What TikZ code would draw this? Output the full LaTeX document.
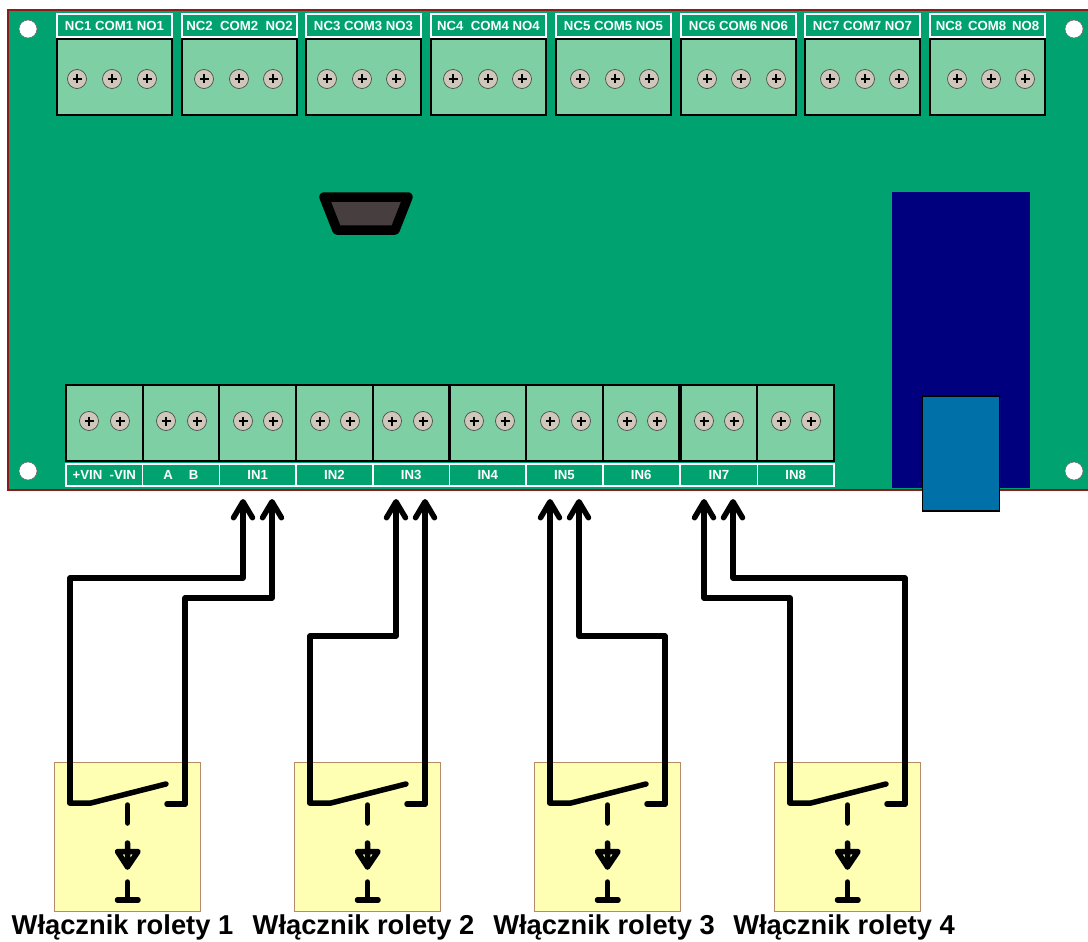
\documentclass[tikz,border=0pt]{standalone}
\usepackage{fontspec}
\setmainfont{Liberation Sans}
\usetikzlibrary{arrows.meta}
\definecolor{boardgreen}{HTML}{00A36F}
\definecolor{boardred}{HTML}{8E1B1B}
\definecolor{blockgreen}{HTML}{7FCFA5}
\definecolor{screwgrey}{HTML}{CFC8BA}
\definecolor{switchyellow}{HTML}{FFFFB4}
\definecolor{switchedge}{HTML}{B58A68}
\definecolor{portgrey}{HTML}{463E3F}
\definecolor{modulenavy}{HTML}{00007F}
\definecolor{moduleblue}{HTML}{0070A8}
\tikzset{
	block/.style={draw=black, line width=2.2pt, fill=blockgreen, inner sep=0pt, minimum height=76pt},
	toplabel/.style={draw=white, line width=1.5pt, fill=boardgreen, text=white, inner sep=0pt, minimum width=115pt, minimum height=23pt, font=\fontsize{13.2}{15}\bfseries},
	botlabel/.style={toplabel, minimum width=76.7pt, minimum height=22pt},
	screw/.style={circle, draw=black!70, line width=0.7pt, fill=screwgrey, inner sep=0pt, minimum size=19pt,
		path picture={\draw[black, line width=1.9pt] (path picture bounding box.center) +(-4.5,0) -- +(4.5,0) +(0,-4.5) -- +(0,4.5);}},
	hole/.style={circle, draw=black!60, line width=0.5pt, fill=white, inner sep=0pt, minimum size=18pt},
	wire/.style={-{Straight Barb[round, length=16pt, width=19pt]}, line width=5.5pt, line join=round, line cap=round},
	sym/.style={line width=5.5pt, line join=round, line cap=round},
	switchbox/.style={draw=switchedge, line width=0.8pt, fill=switchyellow, inner sep=0pt, minimum width=146pt, minimum height=149pt},
	caption/.style={inner sep=0pt, font=\fontsize{27.3}{30}\bfseries}
}
\begin{document}
\begin{tikzpicture}[x=1pt, y=-1pt]
	\useasboundingbox (0,0) rectangle (1088,942);

	% Board
	\node[draw=boardred, line width=1.7pt, fill=boardgreen, inner sep=0pt, minimum width=1092pt, minimum height=480pt] (board) at (554,250) {};
	\node[hole] (hole1) at (28,29) {};
	\node[hole] (hole2) at (1074,29) {};
	\node[hole] (hole3) at (28,471) {};
	\node[hole] (hole4) at (1074,471) {};

	% Port
	\draw[black, line width=9.5pt, line join=round, fill=portgrey] (324,197) -- (408,197) -- (395,230) -- (337,230) -- cycle;

	% Radio module
	\node[fill=modulenavy, inner sep=0pt, minimum width=138pt, minimum height=296pt] (module) at (961,340) {};
	\node[draw=black, line width=1.7pt, fill=moduleblue, inner sep=0pt, minimum width=77pt, minimum height=115pt] (plug) at (961,453.5) {};

	% Relay outputs
	\node[toplabel] (lab1) at (114.5,25.5) {NC1 COM1 NO1};
	\node[block, minimum width=115pt] (top1) at (114.5,77) {};
	\node[screw] (s1a) at (77,79) {}; \node[screw] (s1b) at (112,79) {}; \node[screw] (s1c) at (147,79) {};

	\node[toplabel] (lab2) at (239.5,25.5) {NC2\ \ COM2\ \ NO2};
	\node[block, minimum width=115pt] (top2) at (239.5,77) {};
	\node[screw] (s2a) at (204,79) {}; \node[screw] (s2b) at (239,79) {}; \node[screw] (s2c) at (273,79) {};

	\node[toplabel] (lab3) at (363.5,25.5) {NC3 COM3 NO3};
	\node[block, minimum width=115pt] (top3) at (363.5,77) {};
	\node[screw] (s3a) at (327,79) {}; \node[screw] (s3b) at (362,79) {}; \node[screw] (s3c) at (396,79) {};

	\node[toplabel] (lab4) at (488.5,25.5) {NC4\ \ COM4 NO4};
	\node[block, minimum width=115pt] (top4) at (488.5,77) {};
	\node[screw] (s4a) at (453,79) {}; \node[screw] (s4b) at (488,79) {}; \node[screw] (s4c) at (522,79) {};

	\node[toplabel] (lab5) at (613.5,25.5) {NC5 COM5 NO5};
	\node[block, minimum width=115pt] (top5) at (613.5,77) {};
	\node[screw] (s5a) at (580,79) {}; \node[screw] (s5b) at (615,79) {}; \node[screw] (s5c) at (649,79) {};

	\node[toplabel] (lab6) at (738.5,25.5) {NC6 COM6 NO6};
	\node[block, minimum width=115pt] (top6) at (738.5,77) {};
	\node[screw] (s6a) at (707,79) {}; \node[screw] (s6b) at (741,79) {}; \node[screw] (s6c) at (776,79) {};

	\node[toplabel] (lab7) at (862.5,25.5) {NC7 COM7 NO7};
	\node[block, minimum width=115pt] (top7) at (862.5,77) {};
	\node[screw] (s7a) at (830,79) {}; \node[screw] (s7b) at (865,79) {}; \node[screw] (s7c) at (899,79) {};

	\node[toplabel] (lab8) at (987.5,25.5) {NC8\ \,COM8\ \,NO8};
	\node[block, minimum width=115pt] (top8) at (987.5,77) {};
	\node[screw] (s8a) at (957,79) {}; \node[screw] (s8b) at (991,79) {}; \node[screw] (s8c) at (1025,79) {};

	% Inputs
	\node[block, minimum width=76.7pt] (vin) at (104.3,423) {};
	\node[botlabel] (vinlab) at (104.3,475) {+VIN\ \ -VIN};
	\node[screw] (vina) at (89,421) {}; \node[screw] (vinb) at (120,421) {};

	\node[block, minimum width=76.7pt] (ab) at (181,423) {};
	\node[botlabel] (ablab) at (181,475) {A\hspace{16pt}B};
	\node[screw] (aba) at (166,421) {}; \node[screw] (abb) at (197,421) {};

	\node[block, minimum width=76.7pt] (in1) at (257.7,423) {};
	\node[botlabel] (in1lab) at (257.7,475) {IN1};
	\node[screw] (in1a) at (243,421) {}; \node[screw] (in1b) at (273,421) {};

	\node[block, minimum width=76.7pt] (in2) at (334.4,423) {};
	\node[botlabel] (in2lab) at (334.4,475) {IN2};
	\node[screw] (in2a) at (320,421) {}; \node[screw] (in2b) at (350,421) {};

	\node[block, minimum width=76.7pt] (in3) at (411.1,423) {};
	\node[botlabel] (in3lab) at (411.1,475) {IN3};
	\node[screw] (in3a) at (392,421) {}; \node[screw] (in3b) at (423,421) {};

	\node[block, minimum width=76.7pt] (in4) at (487.8,423) {};
	\node[botlabel] (in4lab) at (487.8,475) {IN4};
	\node[screw] (in4a) at (474,421) {}; \node[screw] (in4b) at (505,421) {};

	\node[block, minimum width=76.7pt] (in5) at (564.5,423) {};
	\node[botlabel] (in5lab) at (564.5,475) {IN5};
	\node[screw] (in5a) at (550,421) {}; \node[screw] (in5b) at (581,421) {};

	\node[block, minimum width=76.7pt] (in6) at (641.2,423) {};
	\node[botlabel] (in6lab) at (641.2,475) {IN6};
	\node[screw] (in6a) at (627,421) {}; \node[screw] (in6b) at (657,421) {};

	\node[block, minimum width=76.7pt] (in7) at (718.9,423) {};
	\node[botlabel] (in7lab) at (718.9,475) {IN7};
	\node[screw] (in7a) at (704,421) {}; \node[screw] (in7b) at (734,421) {};

	\node[block, minimum width=76.7pt] (in8) at (795.6,423) {};
	\node[botlabel] (in8lab) at (795.6,475) {IN8};
	\node[screw] (in8a) at (781,421) {}; \node[screw] (in8b) at (811,421) {};

	% Wire ends
	\coordinate (t1) at (243,499); \coordinate (t2) at (272,499);
	\coordinate (t3) at (396,499); \coordinate (t4) at (425,499);
	\coordinate (t5) at (550,499); \coordinate (t6) at (579,499);
	\coordinate (t7) at (704,499); \coordinate (t8) at (733,499);

	% Switch 1
	\node[switchbox] (sw1) at (127,836.5) {};
	\coordinate (sw1l) at (70,803); \coordinate (sw1r) at (185,804);
	\draw[sym] (sw1l) -- (91,803) -- (166,784);
	\draw[sym] (sw1r) -- (167,804);
	\draw[sym] (127.5,805) -- (127.5,823);
	\draw[sym] (127.5,843) -- (127.5,867) (117.5,851.5) -- (138,851.5) -- (127.5,867) -- cycle;
	\draw[sym] (127.5,882) -- (127.5,900) (117.5,900) -- (138,900);
	\node[caption] (cap1) at (122.5,927) {Włącznik rolety 1};

	% Switch 2
	\node[switchbox] (sw2) at (367,836.5) {};
	\coordinate (sw2l) at (310,803); \coordinate (sw2r) at (425,804);
	\draw[sym] (sw2l) -- (331,803) -- (406,784);
	\draw[sym] (sw2r) -- (407,804);
	\draw[sym] (367.5,805) -- (367.5,823);
	\draw[sym] (367.5,843) -- (367.5,867) (357.5,851.5) -- (378,851.5) -- (367.5,867) -- cycle;
	\draw[sym] (367.5,882) -- (367.5,900) (357.5,900) -- (378,900);
	\node[caption] (cap2) at (363.5,927) {Włącznik rolety 2};

	% Switch 3
	\node[switchbox] (sw3) at (607,836.5) {};
	\coordinate (sw3l) at (550,803); \coordinate (sw3r) at (665,804);
	\draw[sym] (sw3l) -- (571,803) -- (646,784);
	\draw[sym] (sw3r) -- (647,804);
	\draw[sym] (607.5,805) -- (607.5,823);
	\draw[sym] (607.5,843) -- (607.5,867) (597.5,851.5) -- (618,851.5) -- (607.5,867) -- cycle;
	\draw[sym] (607.5,882) -- (607.5,900) (597.5,900) -- (618,900);
	\node[caption] (cap3) at (604,927) {Włącznik rolety 3};

	% Switch 4
	\node[switchbox] (sw4) at (847,836.5) {};
	\coordinate (sw4l) at (790,803); \coordinate (sw4r) at (905,804);
	\draw[sym] (sw4l) -- (811,803) -- (886,784);
	\draw[sym] (sw4r) -- (887,804);
	\draw[sym] (847.5,805) -- (847.5,823);
	\draw[sym] (847.5,843) -- (847.5,867) (837.5,851.5) -- (858,851.5) -- (847.5,867) -- cycle;
	\draw[sym] (847.5,882) -- (847.5,900) (837.5,900) -- (858,900);
	\node[caption] (cap4) at (844,927) {Włącznik rolety 4};

	% Wires
	\draw[wire] (sw1l) -- (sw1l |- 0,578) -- (t1 |- 0,578) -- (t1);
	\draw[wire] (sw1r) -- (sw1r |- 0,598) -- (t2 |- 0,598) -- (t2);
	\draw[wire] (sw2l) -- (sw2l |- 0,636) -- (t3 |- 0,636) -- (t3);
	\draw[wire] (sw2r) -- (t4);
	\draw[wire] (sw3l) -- (t5);
	\draw[wire] (sw3r) -- (sw3r |- 0,636) -- (t6 |- 0,636) -- (t6);
	\draw[wire] (sw4l) -- (sw4l |- 0,598) -- (t7 |- 0,598) -- (t7);
	\draw[wire] (sw4r) -- (sw4r |- 0,578) -- (t8 |- 0,578) -- (t8);
\end{tikzpicture}
\end{document}
